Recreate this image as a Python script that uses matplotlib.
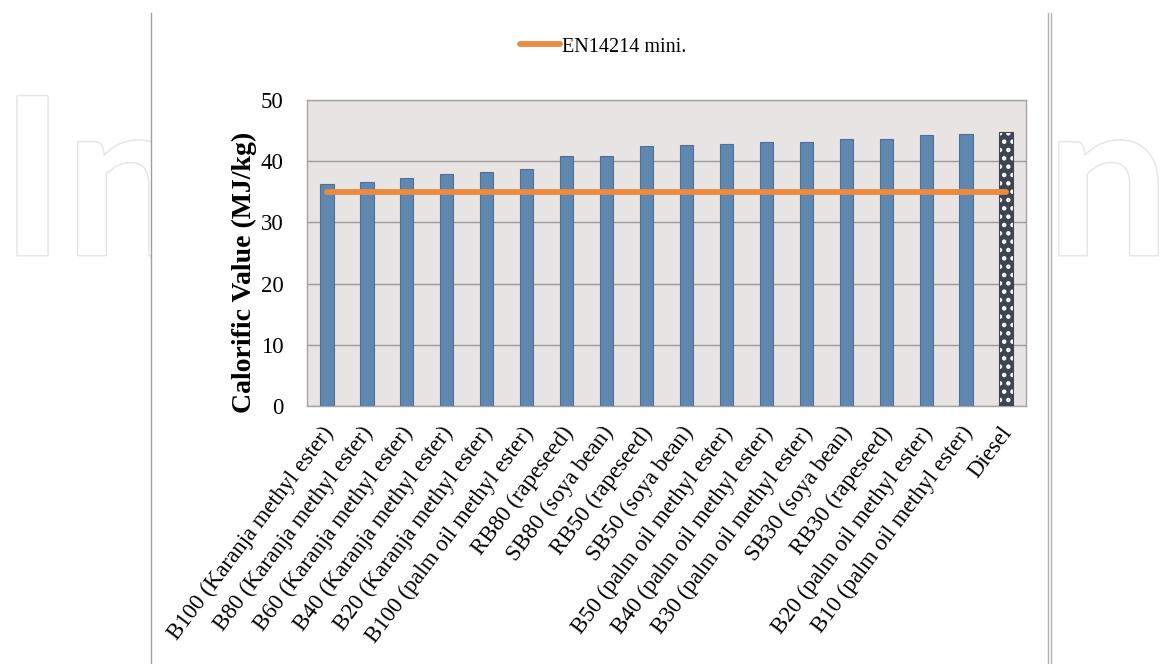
import matplotlib
matplotlib.use('Agg')
import matplotlib.pyplot as plt
import matplotlib.patheffects as pe
import matplotlib.transforms as mtransforms
from matplotlib.patches import Rectangle
from matplotlib.lines import Line2D

categories = [
    "B100 (Karanja methyl ester)",
    "B80 (Karanja methyl ester)",
    "B60 (Karanja methyl ester)",
    "B40 (Karanja methyl ester)",
    "B20 (Karanja methyl ester)",
    "B100 (palm oil methyl ester)",
    "RB80 (rapeseed)",
    "SB80 (soya bean)",
    "RB50 (rapeseed)",
    "SB50 (soya bean)",
    "B50 (palm oil methyl ester)",
    "B40 (palm oil methyl ester)",
    "B30 (palm oil methyl ester)",
    "SB30 (soya bean)",
    "RB30 (rapeseed)",
    "B20 (palm oil methyl ester)",
    "B10 (palm oil methyl ester)",
    "Diesel",
]
values = [36.2, 36.6, 37.3, 37.9, 38.3, 38.7, 40.8, 40.8, 42.5, 42.6,
          42.8, 43.1, 43.2, 43.7, 43.7, 44.2, 44.4, 44.8]
en_min = 35.0
y_ticks = [0, 10, 20, 30, 40, 50]
legend_label = "EN14214 mini."
y_label = "Calorific Value (MJ/kg)"

W, H = 1161, 664
serif = "Liberation Serif"
bar_color = "#5F87B0"
bar_edge = "#4C7097"
diesel_color = "#3E4451"
orange = "#E98C40"

plt.rcParams["hatch.linewidth"] = 2.0

fig = plt.figure(figsize=(W / 100, H / 100), dpi=100)

# watermark letters
wm_effects = [pe.Stroke(linewidth=2.2, foreground="#E6E6E6"), pe.Normal()]
for txt, xp in [("In", 0), ("n", 1046)]:
    fig.text(xp / W, 1 - 255 / H, txt, fontsize=158, family="Lato", weight="bold",
             color="white", ha="left", va="baseline", path_effects=wm_effects, zorder=0)

# white panel behind the chart
fig.patches.append(Rectangle((151 / W, 0), (1048 - 151) / W, 1, transform=fig.transFigure,
                             facecolor="white", edgecolor="none", zorder=1))
fig.lines.append(Line2D([151 / W, 151 / W], [0, 1 - 13 / H], transform=fig.transFigure,
                        color="#A39E9C", lw=1.0, zorder=2))
for xl in (1047.5, 1050.8):
    fig.lines.append(Line2D([xl / W, xl / W], [0, 1 - 13 / H], transform=fig.transFigure,
                            color="#B5B0AE", lw=1.0, zorder=2))

ax = fig.add_axes([307 / W, 1 - 406 / H, (1026 - 307) / W, (406 - 100) / H], zorder=3)
ax.set_facecolor("#E8E4E3")
x = list(range(len(categories)))

ax.bar(x[:-1], values[:-1], width=0.33, color=bar_color, edgecolor=bar_edge,
       linewidth=0.8, zorder=3)
ax.bar(x[-1], values[-1], width=0.33, color=diesel_color, edgecolor="white",
       hatch="..", linewidth=0, zorder=3)
ax.bar(x[-1], values[-1], width=0.33, fill=False, edgecolor=diesel_color,
       linewidth=0.8, zorder=4)

line, = ax.plot([x[0], x[-1]], [en_min, en_min], color=orange, lw=4.2,
                solid_capstyle="round", zorder=5, label=legend_label)

ax.set_xlim(-0.5, len(categories) - 0.5)
ax.set_ylim(y_ticks[0], y_ticks[-1])
ax.set_yticks(y_ticks)
ax.yaxis.grid(True, color="#9E9997", lw=1.0, zorder=1)
ax.set_axisbelow(True)
for s in ax.spines.values():
    s.set_color("#A8A2A0")
    s.set_linewidth(1.0)

ax.tick_params(axis="both", length=0)
ax.tick_params(axis="y", pad=17)
ax.tick_params(axis="x", pad=12)
for lab in ax.get_yticklabels():
    lab.set_family(serif)
    lab.set_fontsize(16.5)
ax.set_xticks(x)
ax.set_xticklabels(categories, rotation=53, ha="right", rotation_mode="anchor",
                   family=serif, fontsize=16.5)
shift = mtransforms.ScaledTranslation(-6 / 100, 0, fig.dpi_scale_trans)
for lab in ax.get_xticklabels():
    lab.set_transform(lab.get_transform() + shift)

ax.set_ylabel(y_label, family=serif, fontsize=20, weight="bold")
ax.yaxis.set_label_coords((257 - 307) / 719, (406 - 272) / 306)

fig.legend(handles=[line], labels=[legend_label], loc="center",
           bbox_to_anchor=(603 / W, 1 - 47 / H), frameon=False,
           handlelength=2.0, handletextpad=0.1,
           prop={"family": serif, "size": 14.5})

fig.savefig("out.png", dpi=100)
